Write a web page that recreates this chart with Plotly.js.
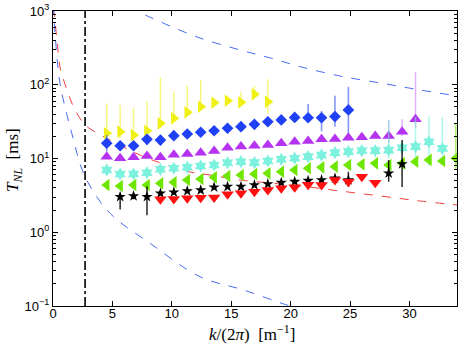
<!DOCTYPE html>
<html>
<head>
<meta charset="utf-8">
<script src="https://cdn.plot.ly/plotly-3.0.1.min.js"></script>
<style>
  html, body { margin: 0; padding: 0; background: #fff; }
  #plotArea { width: 463px; height: 349px; }
</style>
</head>
<body>
<div id="plotArea"></div>
<script>
var kYellow = [4.52, 5.65, 6.78, 7.91, 9.04, 10.17, 11.3, 12.43, 13.56, 14.69, 15.82, 16.95, 18.08];
var kBlue = [4.52, 5.65, 6.78, 7.91, 9.04, 10.17, 11.3, 12.43, 13.56, 14.69, 15.82, 16.95, 18.08, 19.21, 20.34, 21.47, 22.6, 23.73, 24.86];
var kMagenta = [4.52, 5.65, 6.78, 7.91, 9.04, 10.17, 11.3, 12.43, 13.56, 14.69, 15.82, 16.95, 18.08, 19.21, 20.34, 21.47, 22.6, 23.73, 24.86, 25.99, 27.12, 28.25, 29.38, 30.51];
var kCyan = [4.52, 5.65, 6.78, 7.91, 9.04, 10.17, 11.3, 12.43, 13.56, 14.69, 15.82, 16.95, 18.08, 19.21, 20.34, 21.47, 22.6, 23.73, 24.86, 25.99, 27.12, 28.25, 29.38, 30.51, 31.64, 32.77];
var kGreen = [4.52, 5.65, 6.78, 7.91, 9.04, 10.17, 11.3, 12.43, 13.56, 14.69, 15.82, 16.95, 18.08, 19.21, 20.34, 21.47, 22.6, 23.73, 24.86, 25.99, 27.12, 28.25, 29.38, 30.51, 31.64, 32.77, 33.9];
var kBlack = [5.65, 6.78, 7.91, 9.04, 10.17, 11.3, 12.43, 13.56, 14.69, 15.82, 16.95, 18.08, 19.21, 20.34, 21.47, 22.6, 23.73, 24.86, 28.25, 29.38];
var kRed = [9.04, 10.17, 11.3, 12.43, 13.56, 14.69, 15.82, 16.95, 18.08, 19.21, 20.34, 21.47, 22.6, 23.73, 24.86, 25.99, 27.12];

// T_NL [ms] values and error bars (up / down)
var tYellow = [22.0, 23.1, 20.8, 23.8, 30.0, 35.1, 42.3, 50.4, 57.1, 60.8, 57.8, 74.2, 58.9];
var upYellow = [34, 30, 28, 35, 96, 45, 54, 66, 5, 8, 23, 22, 60];
var dnYellow = [4, 4, 4, 4, 4, 4, 4, 4, 3, 3, 4, 6, 18];

var tBlue = [16.1, 14.9, 14.9, 18.2, 17.8, 20.4, 21.5, 22.7, 23.8, 25.7, 27.0, 29.1, 31.5, 33.3, 36.0, 35.7, 35.7, 37.0, 45.5];
var upBlue = [4.7, 2, 2, 2.6, 2, 2, 2, 2, 2, 2, 2, 2, 2, 2, 3, 19, 8.5, 34, 48.5];
var dnBlue = [3.7, 2, 2, 3, 2, 2, 2, 2, 2, 2, 2, 2, 2, 2, 3, 4, 12.3, 10, 27.7];

var tMagenta = [10.6, 10.1, 10.4, 10.8, 10.4, 11.2, 11.5, 12.0, 12.6, 14.0, 14.5, 14.9, 15.2, 16.1, 16.9, 17.3, 18.2, 18.4, 19.1, 19.4, 20.2, 20.2, 23.1, 34.0];
var upMagenta = [0.5, 0.5, 0.5, 0.5, 0.5, 0.5, 0.5, 0.5, 0.5, 0.5, 0.5, 0.5, 0.5, 0.5, 0.5, 0.5, 0.5, 0.5, 1, 2, 3, 13, 11, 116];
var dnMagenta = [0.5, 0.5, 0.5, 0.5, 0.5, 0.5, 0.5, 0.5, 0.5, 0.5, 0.5, 0.5, 0.5, 0.5, 0.5, 0.5, 0.5, 0.5, 1, 1, 1, 4, 3, 8];

var tCyan = [6.98, 6.16, 6.16, 6.42, 7.14, 7.37, 7.6, 7.91, 8.16, 8.77, 9.05, 8.8, 9.25, 9.76, 10.1, 10.6, 11.1, 12.0, 12.4, 12.8, 12.8, 13.0, 14.0, 14.5, 16.9, 13.7];
var upCyan = [0.4, 0.4, 0.4, 0.4, 0.4, 0.4, 0.4, 0.4, 0.4, 0.5, 0.5, 0.5, 0.5, 0.5, 0.6, 1, 1.5, 1.5, 1.5, 1.5, 2, 20, 2, 22, 20, 23];
var dnCyan = [0.4, 0.4, 0.4, 0.4, 0.4, 0.4, 0.4, 0.4, 0.4, 0.5, 0.5, 0.5, 0.5, 0.5, 0.6, 1, 1, 1, 1, 1, 1, 3, 1, 5, 9, 3];

var tGreen = [4.37, 4.24, 4.37, 4.37, 4.61, 4.76, 5.11, 5.27, 5.56, 5.79, 5.97, 6.16, 6.3, 6.62, 6.98, 7.37, 7.6, 7.74, 8.16, 8.34, 8.61, 8.16, 8.61, 9.05, 9.55, 9.25, 10.1];
var upGreen = [0.6, 0.5, 0.5, 0.4, 0.3, 0.3, 0.3, 0.3, 0.3, 0.3, 0.3, 0.3, 0.3, 0.3, 0.4, 0.4, 0.4, 0.4, 0.5, 0.5, 0.5, 1, 0.6, 0.8, 1, 1, 20];
var dnGreen = [0.6, 0.5, 0.5, 0.4, 0.3, 0.3, 0.3, 0.3, 0.3, 0.3, 0.3, 0.3, 0.3, 0.3, 0.4, 0.4, 0.4, 0.4, 0.5, 0.5, 0.5, 1, 0.6, 0.8, 1, 1, 3];

var tBlack = [3.03, 3.10, 3.03, 3.37, 3.48, 3.62, 3.72, 4.07, 4.15, 4.15, 4.37, 4.51, 4.70, 4.85, 5.00, 5.11, 5.39, 5.11, 6.30, 8.42];
var upBlack = [0.4, 0.3, 1.14, 0.2, 0.2, 0.2, 0.2, 0.2, 0.2, 0.2, 0.2, 0.2, 0.2, 0.2, 0.2, 0.2, 0.3, 1.5, 3.25, 9.4];
var dnBlack = [1.0, 0.3, 1.33, 0.2, 0.2, 0.2, 0.2, 0.2, 0.2, 0.2, 0.2, 0.2, 0.2, 0.2, 0.2, 0.2, 0.3, 1.0, 1.45, 4.3];

var tRed = [2.80, 2.82, 2.89, 2.94, 2.97, 3.27, 3.37, 3.55, 3.74, 3.94, 4.07, 4.4, 4.37, 5.11, 4.85, 5.67, 4.70];

// model curves, points
var kRedCurve = [0.05, 0.34, 0.59, 1.18, 1.85, 2.7, 3.54, 4.8, 6.07, 7.33, 8.59, 9.86, 11.54, 13.23, 15.75, 18.28, 20.81, 24.18, 27.55, 30.92, 34.04];
var tRedCurve = [1100, 404, 174, 85, 45.5, 28.5, 22.9, 17.8, 13.9, 11.1, 9.25, 7.9, 6.56, 5.97, 5.11, 4.66, 4.24, 3.62, 3.10, 2.65, 2.34];

var kBlueHigh = [6.6, 7.19, 9.01, 12.38, 15.75, 18.28, 20.81, 24.18, 27.8, 30.9, 34.0];
var tBlueHigh = [1250, 1000, 716, 430, 296, 231, 176, 131, 104, 85, 70.4];

var kBlueLow = [0.02, 0.17, 0.59, 1.58, 2.7, 4.8, 8.17, 12.38, 16.03, 19.69, 21];
var tBlueLow = [1200, 503, 105, 22.0, 5.66, 1.81, 0.708, 0.249, 0.165, 0.103, 0.09];

var kCut = [2.7, 2.7];
var tCut = [0.1, 1000];

var yTickVals = [0.1, 1, 10, 100, 1000];
var yTickText = ["10<sup>\u22121</sup>", "10<sup>0</sup>", "10<sup>1</sup>", "10<sup>2</sup>", "10<sup>3</sup>"];

function points(k, t, up, dn, symbol, color, barColor, size) {
    var trace = {
        x: k, y: t, type: "scatter", mode: "markers",
        marker: {symbol: symbol, color: color, size: size, line: {width: 0}},
        hoverinfo: "skip"
    };
    if (up) {
        trace.error_y = {type: "data", symmetric: false, array: up, arrayminus: dn,
                         color: barColor, thickness: 1.5, width: 0};
    }
    return trace;
}

function curve(k, t, color, dash, width) {
    return {x: k, y: t, type: "scatter", mode: "lines", line: {color: color, dash: dash, width: width, shape: "spline"}, hoverinfo: "skip"};
}

var data = [
    curve(kRedCurve, tRedCurve, "#f04040", "dash", 1),
    curve(kBlueHigh, tBlueHigh, "#4a6cf0", "dash", 1),
    curve(kBlueLow, tBlueLow, "#4a6cf0", "dash", 1),
    {x: kCut, y: tCut, type: "scatter", mode: "lines", line: {color: "#000", dash: "dashdot", width: 1.6}, hoverinfo: "skip"},
    points(kYellow, tYellow, upYellow, dnYellow, "triangle-right", "#f0f014", "rgba(240,240,20,0.55)", 11),
    points(kBlue, tBlue, upBlue, dnBlue, "diamond", "#1f40f5", "rgba(40,70,245,0.6)", 9),
    points(kMagenta, tMagenta, upMagenta, dnMagenta, "triangle-up", "#b432f0", "rgba(190,80,240,0.45)", 11),
    points(kCyan, tCyan, upCyan, dnCyan, "hexagram", "#7cf2de", "rgba(120,240,220,0.6)", 10),
    points(kGreen, tGreen, upGreen, dnGreen, "triangle-left", "#6ee600", "rgba(110,230,0,0.6)", 11),
    points(kBlack, tBlack, upBlack, dnBlack, "star", "#000000", "rgba(0,0,0,0.85)", 8.5),
    points(kRed, tRed, null, null, "triangle-down", "#ff1010", null, 11)
];

var tickFont = {family: "Liberation Sans, Arial, sans-serif", size: 13, color: "#000"};
var titleFont = {family: "Liberation Serif, DejaVu Serif, serif", size: 17, color: "#000"};

var layout = {
    width: 463, height: 349,
    margin: {l: 53, r: 6, t: 11, b: 43},
    paper_bgcolor: "#fff", plot_bgcolor: "#fff",
    showlegend: false,
    xaxis: {
        range: [0, 34], tickvals: [0, 5, 10, 15, 20, 25, 30],
        ticks: "inside", ticklen: 5, tickcolor: "#000", ticklabelstandoff: -5,
        showline: true, mirror: "allticks", linecolor: "#000", linewidth: 1,
        showgrid: false, zeroline: false, tickfont: tickFont
    },
    yaxis: {
        type: "log", range: [-1, 3],
        tickmode: "array", tickvals: yTickVals, ticktext: yTickText,
        ticks: "inside", ticklen: 5, tickcolor: "#000",
        minor: {tickmode: "linear", dtick: "D1", ticks: "inside", ticklen: 3, tickcolor: "#000"},
        showline: true, mirror: "allticks", linecolor: "#000", linewidth: 1,
        showgrid: false, zeroline: false, tickfont: tickFont
    },
    annotations: [
        {text: "<i>k</i>/(2<i>\u03c0</i>)  [m<sup>\u22121</sup>]", xref: "paper", yref: "paper",
         x: 0.4926, y: -0.0915, xanchor: "center", yanchor: "middle", showarrow: false, font: titleFont},
        {text: "<i>T</i><sub><i>NL</i></sub>  [ms]", xref: "paper", yref: "paper", textangle: -90,
         x: -0.0965, y: 0.495, xanchor: "center", yanchor: "middle", showarrow: false, font: titleFont}
    ]
};

Plotly.newPlot("plotArea", data, layout, {staticPlot: true});
</script>
</body>
</html>
